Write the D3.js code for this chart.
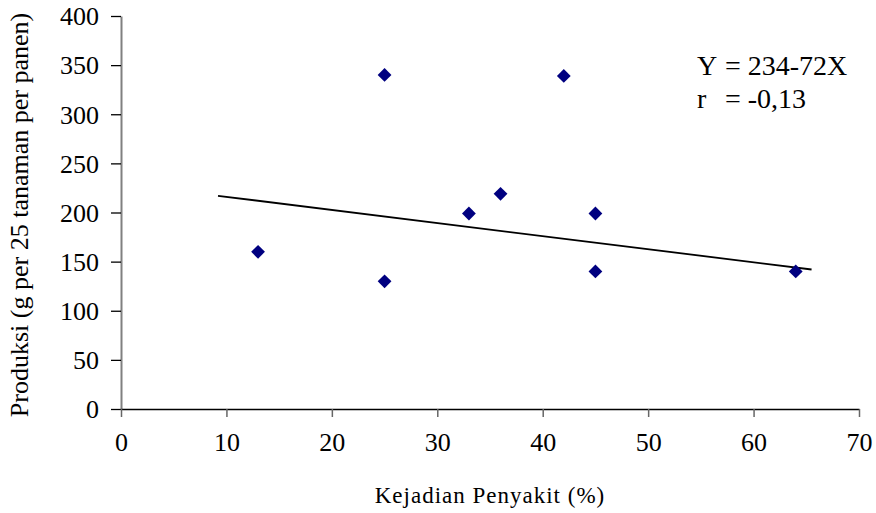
<!DOCTYPE html>
<html>
<head>
<meta charset="utf-8">
<script src="https://cdn.jsdelivr.net/npm/d3@7"></script>
<style>
  body { margin: 0; background: #fff; }
  svg text { font-family: "Liberation Serif", "Times New Roman", serif; fill: #000; }
</style>
</head>
<body>
<script>
// data
var kejadian = [13, 25, 25, 33, 36, 42, 45, 45, 64]
  , produksi = [160, 340, 130, 199, 219, 339, 199, 140, 140]
  , trendX   = [9.2, 65.5]
  , trendY   = [217, 142]
  , xTicks   = [0, 10, 20, 30, 40, 50, 60, 70]
  , yTicks   = [0, 50, 100, 150, 200, 250, 300, 350, 400]
  , eqLines  = [["Y", "= 234-72X"], ["r", "= -0,13"]]

var W = 876, H = 513
  , serif = "'Liberation Serif', 'Times New Roman', serif"

var svg = d3.select("body").append("svg")
	.attr("width", W).attr("height", H)

var x = d3.scaleLinear().domain([0, 70]).range([121, 859])
  , y = d3.scaleLinear().domain([0, 400]).range([409, 16])

// y axis
var gy = svg.append("g")
	.attr("transform", "translate(" + x(0) + ",0)")
	.call(d3.axisLeft(y).tickValues(yTicks).tickSize(10).tickPadding(12).tickSizeOuter(0))
	.attr("font-family", serif)
gy.select(".domain").attr("stroke", "#808080").attr("stroke-width", 2)
gy.selectAll(".tick line").attr("stroke", "#000").attr("stroke-width", 1.3)
gy.selectAll(".tick text").attr("font-size", 26).attr("dy", "0.34em")

// x axis
var gx = svg.append("g")
	.attr("transform", "translate(0," + y(0) + ")")
	.call(d3.axisBottom(x).tickValues(xTicks).tickSize(8).tickPadding(16).tickSizeOuter(0))
	.attr("font-family", serif)
gx.select(".domain").attr("stroke", "#000").attr("stroke-width", 1.5)
gx.selectAll(".tick line").attr("stroke", "#666").attr("stroke-width", 1.5)
gx.selectAll(".tick text").attr("font-size", 26)

// trend line
svg.append("line")
	.attr("x1", x(trendX[0])).attr("y1", y(trendY[0]))
	.attr("x2", x(trendX[1])).attr("y2", y(trendY[1]))
	.attr("stroke", "#000").attr("stroke-width", 1.8)

// points
var diamond = d3.symbol().type(d3.symbolSquare).size(95)
svg.append("g").selectAll("path")
	.data(kejadian)
	.join("path")
	.attr("d", diamond)
	.attr("transform", function (d, i) {
		return "translate(" + x(d) + "," + y(produksi[i]) + ") rotate(45)"
	})
	.attr("fill", "#000080")

// equation
var eq = svg.append("g")
eqLines.forEach(function (l, i) {
	eq.append("text").attr("x", 697).attr("y", 75 + i * 33).attr("font-size", 28).text(l[0])
	eq.append("text").attr("x", 725).attr("y", 75 + i * 33).attr("font-size", 28).text(l[1])
})

// axis titles
svg.append("text")
	.attr("x", 490).attr("y", 503)
	.attr("text-anchor", "middle")
	.attr("font-size", 23)
	.style("letter-spacing", "1px")
	.text("Kejadian Penyakit (%)")

svg.append("text")
	.attr("transform", "translate(28,215) rotate(-90)")
	.attr("text-anchor", "middle")
	.attr("font-size", 26)
	.text("Produksi (g per 25 tanaman per panen)")
</script>
</body>
</html>
